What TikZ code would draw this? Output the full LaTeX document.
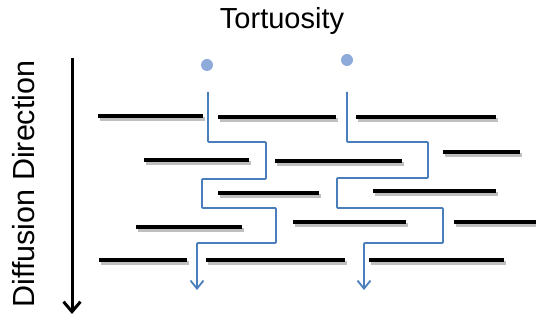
\documentclass[tikz,border=0pt]{standalone}
\usepackage{fontspec}
\setmainfont{Liberation Sans}
\usetikzlibrary{arrows.meta}
\definecolor{pathblue}{HTML}{4A7EBB}
\definecolor{dotblue}{HTML}{8EAADB}
\tikzset{
  bar/.style={line width=3.8pt, black},
  barshadow/.style={line width=4.5pt, black!25},
  flow/.style={line width=1.8pt, pathblue, rounded corners=0.8pt},
  flowtip/.style={-{Straight Barb[length=8pt,width=13pt,line width=1.8pt]}},
  dot/.style={circle, fill=dotblue, inner sep=0pt, minimum size=12pt},
  lbl/.style={inner sep=0pt, font=\fontsize{30.5}{33}\selectfont}
}
\newcommand{\mybar}[3]{%
  \draw[barshadow] (#1+2,#3+3) -- (#2+2,#3+3);
  \draw[bar] (#1,#3) -- (#2,#3);}
\begin{document}
\begin{tikzpicture}[x=1pt,y=-1pt]
\useasboundingbox (0,0) rectangle (536,320);
% title
\node[lbl, font=\fontsize{29}{32}\selectfont] (title) at (282,21) {Tortuosity};
\node[lbl, rotate=90] (dir) at (24,184) {Diffusion Direction};
\coordinate (arrtop) at (72,58);
\coordinate (arrbot) at (72,314);
\draw[line width=3pt, -{Straight Barb[length=10pt,width=17pt,line width=3pt]}] (arrtop) -- (arrbot);
% bars
\mybar{98}{203}{116}
\mybar{218}{336}{117}
\mybar{356}{496}{117}
\mybar{144}{249}{160}
\mybar{275}{402}{161}
\mybar{443}{520}{152}
\mybar{218}{319}{193}
\mybar{373}{496}{191}
\mybar{136}{242}{227}
\mybar{293}{406}{222}
\mybar{454}{540}{222}
\mybar{99}{187}{260}
\mybar{206}{345}{260}
\mybar{369}{504}{260}
% dots
\node[dot] (d1) at (207,65) {};
\node[dot] (d2) at (347,60) {};
% path 1
\coordinate (a0) at (208,92);
\coordinate (a9) at (197,290);
\draw[flow, flowtip] (a0) -- (208,142) -- (266,142) -- (266,179) -- (202,179) -- (202,208) -- (276,208) -- (276,243) -- (197,243) -- (a9);
% path 2
\coordinate (b0) at (347,92);
\coordinate (b9) at (364,290);
\draw[flow, flowtip] (b0) -- (347,142) -- (428,142) -- (428,178) -- (337,178) -- (337,208) -- (443,208) -- (443,243) -- (364,243) -- (b9);
\end{tikzpicture}
\end{document}
